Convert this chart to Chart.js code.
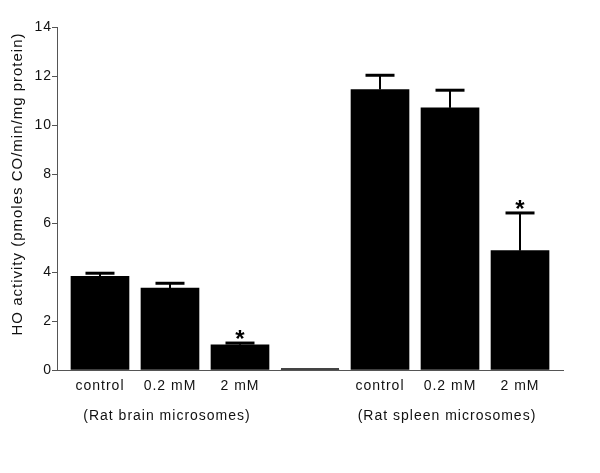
<!DOCTYPE html>
<html>
<head>
<meta charset="utf-8">
<script src="https://cdn.jsdelivr.net/npm/chart.js@4.4.1/dist/chart.umd.min.js"></script>
<style>
  html, body { margin: 0; padding: 0; background: #fff; }
  #wrap { width: 600px; height: 473px; }
</style>
</head>
<body>
<div id="wrap"><canvas id="hoChart" width="600" height="473"></canvas></div>
<script>
// HO activity, mean and SEM (upper error bar only)
const categories = ['control', '0.2 mM', '2 mM', '', 'control', '0.2 mM', '2 mM'];
const means = [3.82, 3.34, 1.03, 0, 11.45, 10.70, 4.87];
const sems = [0.13, 0.20, 0.07, 0, 0.58, 0.72, 1.54];
const significant = [false, false, true, false, false, false, true];
const groupLabels = ['(Rat brain microsomes)', '(Rat spleen microsomes)'];
const groupCenters = [1, 5];
const yTicks = [0, 2, 4, 6, 8, 10, 12, 14];
const yTitle = 'HO activity (pmoles CO/min/mg protein)';

const FONT = '"Liberation Sans", Arial, Helvetica, sans-serif';

// error bars, asterisks, zero-height bar, group captions and y title
const extras = {
  id: 'extras',
  beforeDraw(chart) {
    chart.ctx.letterSpacing = '1px';
  },
  afterDatasetsDraw(chart) {
    const ctx = chart.ctx;
    const y = chart.scales.y;
    const meta = chart.getDatasetMeta(0);
    ctx.save();
    ctx.strokeStyle = '#000';
    meta.data.forEach((bar, i) => {
      const x = bar.x;
      if (means[i] === 0) {
        ctx.strokeStyle = '#444';
        ctx.lineWidth = 2;
        ctx.beginPath();
        ctx.moveTo(x - bar.width / 2, y.getPixelForValue(0) - 1);
        ctx.lineTo(x + bar.width / 2, y.getPixelForValue(0) - 1);
        ctx.stroke();
        ctx.strokeStyle = '#000';
        return;
      }
      const top = y.getPixelForValue(means[i]);
      const capY = y.getPixelForValue(means[i] + sems[i]);
      ctx.lineWidth = 2;
      ctx.beginPath();
      ctx.moveTo(x, top);
      ctx.lineTo(x, capY);
      ctx.stroke();
      ctx.lineWidth = 3;
      ctx.beginPath();
      ctx.moveTo(x - 14.5, capY);
      ctx.lineTo(x + 14.5, capY);
      ctx.stroke();
      if (significant[i]) {
        ctx.letterSpacing = '0px';
        ctx.fillStyle = '#000';
        ctx.font = 'bold 24px ' + FONT;
        ctx.textAlign = 'center';
        ctx.textBaseline = 'alphabetic';
        ctx.fillText('*', x, capY - 10 + 14);
        ctx.letterSpacing = '1px';
      }
    });
    ctx.restore();
  },
  afterDraw(chart) {
    const ctx = chart.ctx;
    const xs = chart.scales.x;
    ctx.save();
    ctx.letterSpacing = '1px';
    ctx.fillStyle = '#111';
    ctx.font = '14px ' + FONT;
    ctx.textAlign = 'center';
    ctx.textBaseline = 'middle';
    groupLabels.forEach((t, k) => {
      ctx.fillText(t, xs.getPixelForValue(groupCenters[k]) - 3, 416);
    });
    ctx.translate(18, 184);
    ctx.rotate(-Math.PI / 2);
    ctx.font = '15px ' + FONT;
    ctx.fillText(yTitle, 0, 0);
    ctx.restore();
  }
};

new Chart(document.getElementById('hoChart').getContext('2d'), {
  type: 'bar',
  data: {
    datasets: [{
      data: means.map((v, i) => ({ x: i, y: v })),
      backgroundColor: '#000',
      borderWidth: 0,
      barThickness: 58
    }]
  },
  options: {
    responsive: false,
    animation: false,
    layout: { padding: { top: 27, right: 37, bottom: 0, left: 0 } },
    plugins: { legend: { display: false }, tooltip: { enabled: false } },
    scales: {
      x: {
        type: 'linear',
        offset: false,
        min: -0.614,
        max: 6.614,
        afterBuildTicks: s => { s.ticks = categories.map((c, i) => ({ value: i })); },
        afterFit: s => { s.height = 103; },
        ticks: {
          autoSkip: false,
          maxRotation: 0,
          padding: 0,
          color: '#111',
          font: { family: FONT, size: 14 },
          callback: v => categories[v]
        },
        grid: { display: false },
        border: { color: '#555', width: 1 }
      },
      y: {
        min: 0,
        max: 14,
        afterBuildTicks: s => { s.ticks = yTicks.map(v => ({ value: v })); },
        afterFit: s => { s.width = 57; },
        ticks: {
          padding: 0,
          color: '#111',
          font: { family: FONT, size: 14 }
        },
        grid: { drawOnChartArea: false, drawTicks: true, tickLength: 5, color: '#555' },
        border: { color: '#555', width: 1 }
      }
    }
  },
  plugins: [extras]
});
</script>
</body>
</html>
